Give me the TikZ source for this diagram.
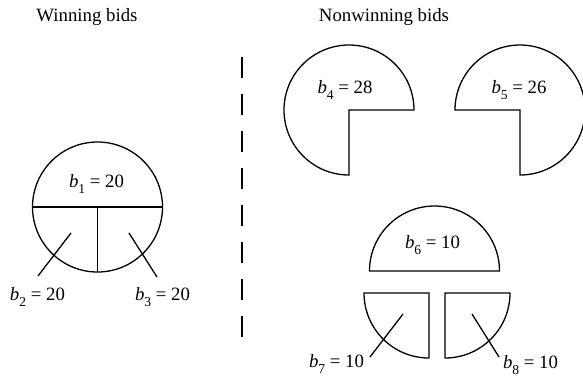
\documentclass[tikz,border=0pt]{standalone}
\usepackage{fontspec}
\setmainfont{Liberation Serif}
\usepackage{tikz}

\newcommand{\bidval}[2]{\textit{b}\raisebox{-3.4pt}{\fontsize{6.8}{8}\selectfont #1} = #2}

\begin{document}
\begin{tikzpicture}[x=0.5pt,y=-0.5pt,line width=0.65pt,
    font=\fontsize{9.4}{11}\selectfont,
    lbl/.style={anchor=base,inner sep=0pt}]
  \useasboundingbox (0,0) rectangle (583,377);
  % headings and separator
  \node (win) at (87,17) {Winning bids};
  \node (nonwin) at (384,17) {Nonwinning bids};
  \coordinate (sepa) at (242,57);
  \coordinate (sepb) at (242,337);
  \draw[dash pattern=on 10.5pt off 8pt] (sepa) -- (sepb);
  % winning bids
  \coordinate (c1) at (97.5,207);
  \draw (c1) circle (32.5pt);
  \draw ([xshift=-32.5pt]c1) -- ([xshift=32.5pt]c1);
  \draw (c1) -- ([yshift=-32.5pt]c1);
  \node[lbl] (b1) at (96.5,187) {\bidval{1}{20}};
  \node[lbl] (b2) at (37.5,300) {\bidval{2}{20}};
  \node[lbl] (b3) at (162.5,300) {\bidval{3}{20}};
  \coordinate (p2) at (71,233);  \coordinate (q2) at (38,276);
  \coordinate (p3) at (129,233); \coordinate (q3) at (157,277);
  \draw (p2) -- (q2);
  \draw (p3) -- (q3);
  % nonwinning bids
  \coordinate (c4) at (349,110);
  \draw (c4) -- ([xshift=32.5pt]c4) arc (0:270:32.5pt) -- cycle;
  \node[lbl] (b4) at (345,93) {\bidval{4}{28}};
  \coordinate (c5) at (520,110);
  \draw (c5) -- ([xshift=-32.5pt]c5) arc (180:-90:32.5pt) -- cycle;
  \node[lbl] (b5) at (519,93) {\bidval{5}{26}};
  \coordinate (c6) at (434.5,271);
  \draw ([xshift=-32.5pt]c6) arc (180:0:32.5pt) -- cycle;
  \node[lbl] (b6) at (432.5,248) {\bidval{6}{10}};
  \coordinate (c7) at (429,293);
  \draw ([xshift=-32.5pt]c7) -- (c7) -- ([yshift=-32.5pt]c7) arc (270:180:32.5pt) -- cycle;
  \coordinate (c8) at (445,293);
  \draw ([xshift=32.5pt]c8) -- (c8) -- ([yshift=-32.5pt]c8) arc (-90:0:32.5pt) -- cycle;
  \node[lbl] (b7) at (336.5,367) {\bidval{7}{10}};
  \node[lbl] (b8) at (530.5,368) {\bidval{8}{10}};
  \coordinate (p7) at (403,314); \coordinate (q7) at (370,357);
  \coordinate (p8) at (472,314); \coordinate (q8) at (499,357);
  \draw (p7) -- (q7);
  \draw (p8) -- (q8);
\end{tikzpicture}
\end{document}
